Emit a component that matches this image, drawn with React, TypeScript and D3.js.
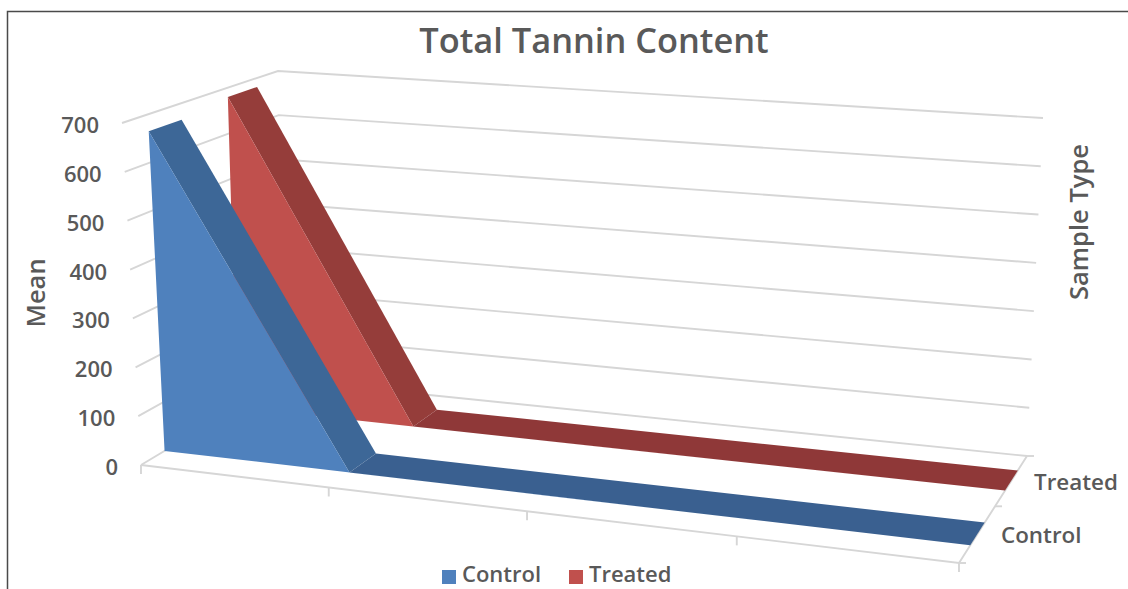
import React from "react";
import * as d3 from "d3";

// Chart values
const chartTitle = "Total Tannin Content";
const valueTicks = [0, 100, 200, 300, 400, 500, 600, 700];
const categorySlots = [0, 1, 2, 3, 4];
const seriesNames = ["Control", "Treated"];
const controlMeans = [665, 0, 0, 0, 0];
const treatedMeans = [680, 0, 0, 0, 0];

const WIDTH = 1128;
const HEIGHT = 589;
const TEXT = "#595959";
const GRID = "#d6d6d6";
const FONT = "'Open Sans', sans-serif";

const palette = [
  { face: "#4f81bd", slope: "#3d6797", floor: "#3a6090" },
  { face: "#c0504d", slope: "#953d3a", floor: "#8f3838" },
];

type Pt = [number, number];

// Screen positions of the eight corners of the plot box
const box = {
  frontLeftLow: [141, 465] as Pt,
  frontLeftHigh: [122, 123] as Pt,
  backLeftLow: [283, 380] as Pt,
  backLeftHigh: [278, 71] as Pt,
  frontRightLow: [959, 563] as Pt,
  frontRightHigh: [979, 189] as Pt,
  backRightLow: [1027, 456] as Pt,
  backRightHigh: [1043, 118] as Pt,
};

const xFrac = d3.scaleLinear().domain([0, 4]).range([0, 1]);
const yFrac = d3.scaleLinear().domain([0, 700]).range([0, 1]);

// Foreshortening along the width and the depth of the box
const foreshorten = (t: number, c: number) => t / (t + c * (1 - t));

const mix = (a: Pt, b: Pt, t: number): Pt => [a[0] + (b[0] - a[0]) * t, a[1] + (b[1] - a[1]) * t];

// Maps (category slot, depth 0..1, value) to screen coordinates
function project(slot: number, depth: number, value: number): Pt {
  const u = foreshorten(xFrac(slot), 1.119);
  const w = foreshorten(depth, 0.887);
  const v = yFrac(value);
  const low = mix(
    mix(box.frontLeftLow, box.frontRightLow, u),
    mix(box.backLeftLow, box.backRightLow, u),
    w,
  );
  const high = mix(
    mix(box.frontLeftHigh, box.frontRightHigh, u),
    mix(box.backLeftHigh, box.backRightHigh, u),
    w,
  );
  return mix(low, high, v);
}

const polyline = d3.line<Pt>();
const closed = (pts: Pt[]) => polyline(pts) + "Z";

const bands = [
  { near: 0.15, far: 0.35, values: controlMeans },
  { near: 0.65, far: 0.85, values: treatedMeans },
];

// Splits a series into runs of slots that share one surface: sloped or level
function surfaceRuns(values: number[]) {
  const runs: { from: number; to: number; level: boolean }[] = [];
  for (let i = 0; i < values.length - 1; i++) {
    const level = values[i] === values[i + 1];
    const last = runs[runs.length - 1];
    if (last && last.level === level && level) last.to = i + 1;
    else runs.push({ from: i, to: i + 1, level });
  }
  return runs;
}

function Area3D({ index }: { index: number }) {
  const { near, far, values } = bands[index];
  const colors = palette[index];
  const frontFace: Pt[] = [
    project(0, near, 0),
    ...values.map((val, i): Pt => project(i, near, val)),
  ];
  return (
    <g>
      {surfaceRuns(values).map(({ from, to, level }) => (
        <path
          key={from}
          d={closed([
            project(from, near, values[from]),
            project(from, far, values[from]),
            project(to, far, values[to]),
            project(to, near, values[to]),
          ])}
          fill={level ? colors.floor : colors.slope}
        />
      ))}
      <path d={closed(frontFace)} fill={colors.face} />
    </g>
  );
}

export default function App() {
  const gridLine = (pts: Pt[], key: string) => (
    <path key={key} d={polyline(pts)!} fill="none" stroke={GRID} strokeWidth={1.9} />
  );
  const frontLeft = project(0, 0, 0);
  const frontRight = project(4, 0, 0);
  const backRight = project(4, 1, 0);
  const midRight = project(4, 0.5, 0);

  return (
    <svg
      width={WIDTH}
      height={HEIGHT}
      viewBox={`0 0 ${WIDTH} ${HEIGHT}`}
      style={{ position: "absolute", left: 0, top: 0, background: "#fff", fontFamily: FONT }}
    >
      {/* outer frame, open on the right and at the bottom */}
      <path d={`M7.5,${HEIGHT}V11.5H${WIDTH}`} fill="none" stroke="#4a4a4a" strokeWidth={1.5} />

      <text x={594} y={53} textAnchor="middle" fontSize={34.4} fontWeight={600} fill={TEXT}>
        {chartTitle}
      </text>

      {/* left and back walls */}
      {valueTicks.map((t) => (
        <g key={t}>
          {gridLine([project(0, 0, t), project(0, 1, t), project(4, 1, t)], `wall-${t}`)}
        </g>
      ))}

      {/* floor edges and tick marks */}
      {gridLine([frontLeft, frontRight, backRight], "floor")}
      {categorySlots.map((c) => {
        const p = project(c, 0, 0);
        return gridLine([p, [p[0], p[1] + 9]], `x-${c}`);
      })}
      {gridLine([backRight, [backRight[0] + 7, backRight[1]]], "z-back")}
      {gridLine([midRight, [midRight[0] + 7, midRight[1]]], "z-mid")}
      {gridLine([frontRight, [frontRight[0] + 7, frontRight[1]]], "z-front")}

      {/* back series first so the front one overlaps it */}
      <Area3D index={1} />
      <Area3D index={0} />

      {valueTicks.map((t) => {
        const p = project(0, 0, t);
        return (
          <text
            key={t}
            x={p[0] - 23}
            y={p[1] + 10}
            textAnchor="end"
            fontSize={22}
            fontWeight={600}
            fill={TEXT}
          >
            {t}
          </text>
        );
      })}

      <text
        transform="translate(45,293) rotate(-90)"
        textAnchor="middle"
        fontSize={25.5}
        fontWeight={600}
        fill={TEXT}
      >
        Mean
      </text>
      <text
        transform="translate(1088,222) rotate(-90)"
        textAnchor="middle"
        fontSize={25.5}
        fontWeight={600}
        fill={TEXT}
      >
        Sample Type
      </text>

      <text x={1034} y={490} fontSize={22.4} fontWeight={600} fill={TEXT}>
        {seriesNames[1]}
      </text>
      <text x={1001} y={543} fontSize={22.4} fontWeight={600} fill={TEXT}>
        {seriesNames[0]}
      </text>

      {/* legend */}
      {seriesNames.map((name, i) => {
        const x = [442, 569][i];
        return (
          <g key={name}>
            <rect x={x} y={570} width={14} height={14} fill={palette[i].face} />
            <text x={x + 20} y={582.4} fontSize={22} fontWeight={600} fill={TEXT}>
              {name}
            </text>
          </g>
        );
      })}
    </svg>
  );
}
